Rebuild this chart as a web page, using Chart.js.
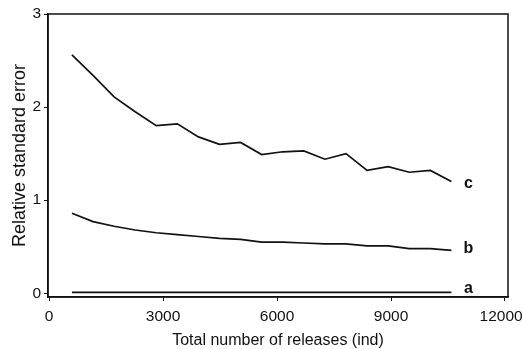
<!DOCTYPE html>
<html>
<head>
<meta charset="utf-8">
<script src="https://cdn.jsdelivr.net/npm/chart.js@4"></script>
<style>
  html, body { margin: 0; padding: 0; background: #fff; }
  #wrap { width: 523px; height: 349px; }
</style>
</head>
<body>
<div id="wrap"><canvas id="grafica"></canvas></div>
<script>
// Relative standard error vs. total number of releases
const releases = [600, 1155, 1710, 2265, 2820, 3375, 3930, 4485, 5040, 5595, 6150, 6705, 7260, 7815, 8370, 8925, 9480, 10035, 10590];
const serieA = [0.01, 0.01, 0.01, 0.01, 0.01, 0.01, 0.01, 0.01, 0.01, 0.01, 0.01, 0.01, 0.01, 0.01, 0.01, 0.01, 0.01, 0.01, 0.01];
const serieB = [0.86, 0.77, 0.72, 0.68, 0.65, 0.63, 0.61, 0.59, 0.58, 0.55, 0.55, 0.54, 0.53, 0.53, 0.51, 0.51, 0.48, 0.48, 0.46];
const serieC = [2.56, 2.34, 2.11, 1.95, 1.80, 1.82, 1.68, 1.60, 1.62, 1.49, 1.52, 1.53, 1.44, 1.50, 1.32, 1.36, 1.30, 1.32, 1.20];
const xTicks = [0, 3000, 6000, 9000, 12000];
const yTicks = [0, 1, 2, 3];
const etiquetas = ['a', 'b', 'c'];

const puntos = arr => arr.map((v, i) => ({ x: releases[i], y: v }));
const FUENTE = 'Liberation Sans, Arial, sans-serif';

// marco completo alrededor del área de la gráfica + etiquetas a, b, c
const marco = {
    id: 'marco',
    afterDraw(chart) {
        const { ctx, chartArea: a } = chart;
        ctx.save();
        ctx.strokeStyle = '#111';
        ctx.lineWidth = 1.5;
        ctx.strokeRect(a.left, a.top, a.right - a.left, a.bottom - a.top);
        ctx.fillStyle = '#111';
        ctx.font = 'bold 16px ' + FUENTE;
        ctx.textAlign = 'center';
        ctx.textBaseline = 'middle';
        const ajustes = [-4, -2, 2];
        chart.data.datasets.forEach((ds, i) => {
            const ult = ds.data[ds.data.length - 1];
            const px = chart.scales.x.getPixelForValue(ult.x) + 17;
            const py = chart.scales.y.getPixelForValue(ult.y) + ajustes[i];
            ctx.fillText(etiquetas[i], px, py);
        });
        ctx.restore();
    }
};

const linea = (data) => ({
    data: puntos(data),
    borderColor: '#111',
    borderWidth: 1.7,
    pointRadius: 0,
    tension: 0,
    fill: false
});

const ctx = document.getElementById('grafica').getContext('2d');
const grafica = new Chart(ctx, {
    type: 'line',
    data: {
        datasets: [linea(serieA), linea(serieB), linea(serieC)]
    },
    options: {
        responsive: true,
        maintainAspectRatio: false,
        animation: false,
        layout: { padding: { left: 0, top: 14, right: 15, bottom: 0 } },
        plugins: {
            legend: { display: false },
            tooltip: { enabled: false }
        },
        scales: {
            x: {
                type: 'linear',
                min: -30,
                max: 12080,
                afterBuildTicks: s => { s.ticks = xTicks.map(v => ({ value: v })); },
                afterFit: s => { s.height = 52; s.paddingLeft = 0; s.paddingRight = 0; },
                grid: { display: true, drawOnChartArea: false, drawTicks: true, tickLength: 4, color: '#111' },
                border: { display: true, color: '#111', width: 1.5 },
                ticks: {
                    color: '#111', font: { family: FUENTE, size: 15.5 }, padding: 6, maxRotation: 0,
                    callback: v => v === 12000 ? '12000\u2002' : String(v)
                },
                title: { display: true, text: 'Total number of releases (ind)', color: '#111', font: { family: FUENTE, size: 16, lineHeight: 1 }, padding: { top: 0, bottom: 0 } }
            },
            y: {
                min: -0.04,
                max: 3,
                afterBuildTicks: s => { s.ticks = yTicks.map(v => ({ value: v })); },
                afterFit: s => { s.width = 48; },
                grid: { display: true, drawOnChartArea: false, drawTicks: true, tickLength: 4, color: '#111' },
                border: { display: true, color: '#111', width: 1.5 },
                ticks: { color: '#111', font: { family: FUENTE, size: 15.5 }, padding: 3, callback: v => String(v) },
                title: { display: true, text: 'Relative standard error', color: '#111', font: { family: FUENTE, size: 18, lineHeight: 1 }, padding: { top: 11, bottom: 0 } }
            }
        }
    },
    plugins: [marco]
});
</script>
</body>
</html>
